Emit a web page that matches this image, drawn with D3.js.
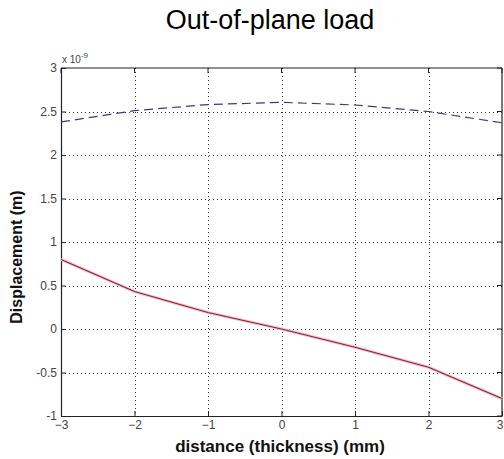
<!DOCTYPE html>
<html>
<head>
<meta charset="utf-8">
<script src="https://cdn.jsdelivr.net/npm/d3@7"></script>
<style>
body { margin: 0; background: #fff; }
text { font-family: "Liberation Sans", Arial, sans-serif; }
</style>
</head>
<body>
<svg id="chart" width="504" height="459"></svg>
<script>
// data (y in units of 1e-9 m)
var xs = [-3, -2, -1, 0, 1, 2, 3];
var upper = [2.38, 2.51, 2.58, 2.605, 2.575, 2.5, 2.37];
var lower = [0.8, 0.43, 0.19, 0, -0.21, -0.44, -0.8];
var xTicks = [-3, -2, -1, 0, 1, 2, 3];
var yTicks = [-1, -0.5, 0, 0.5, 1, 1.5, 2, 2.5, 3];

var svg = d3.select("#chart");
var pL = 61, pR = 502, pT = 68, pB = 416;

var x = d3.scaleLinear().domain([-3, 3]).range([pL, pR]);
var y = d3.scaleLinear().domain([-1, 3]).range([pB, pT]);

// grid
var grid = svg.append("g")
    .attr("stroke", "#333")
    .attr("stroke-width", 1)
    .attr("stroke-dasharray", "1,3");
grid.selectAll(".gx")
    .data(xTicks.slice(1, -1))
    .enter().append("line")
    .attr("x1", d => Math.round(x(d)) + 0.5).attr("x2", d => Math.round(x(d)) + 0.5)
    .attr("y1", pT).attr("y2", pB);
grid.selectAll(".gy")
    .data(yTicks.slice(1, -1))
    .enter().append("line")
    .attr("y1", d => Math.round(y(d)) + 0.5).attr("y2", d => Math.round(y(d)) + 0.5)
    .attr("x1", pL).attr("x2", pR);

// axes
var xAxis = d3.axisBottom(x).tickValues(xTicks).tickSizeInner(-5).tickSizeOuter(0)
    .tickFormat(d3.format("d"));
var yAxis = d3.axisLeft(y).tickValues(yTicks).tickSizeInner(-5).tickSizeOuter(0)
    .tickFormat(d => String(d));

var gx = svg.append("g").attr("transform", "translate(0," + pB + ")").call(xAxis);
var gy = svg.append("g").attr("transform", "translate(" + pL + ",0)").call(yAxis);
[gx, gy].forEach(g => {
    g.select(".domain").attr("stroke", "#222").attr("stroke-width", 1.2);
    g.selectAll(".tick line").attr("stroke", "#222");
    g.selectAll(".tick text").attr("font-size", 12).attr("fill", "#444")
        .attr("font-family", "Liberation Sans, Arial, sans-serif");
});
gx.selectAll(".tick text").attr("y", 4).attr("dy", "0.71em");
gx.selectAll(".tick").filter(d => d === 3).select("text").attr("text-anchor", "end").attr("dx", 1);
gy.selectAll(".tick text").attr("x", -4);

// top and right borders with ticks
svg.append("line").attr("x1", pL).attr("x2", pR).attr("y1", pT).attr("y2", pT)
    .attr("stroke", "#222").attr("stroke-width", 1.2);
svg.append("line").attr("x1", pR).attr("x2", pR).attr("y1", pT).attr("y2", pB)
    .attr("stroke", "#222").attr("stroke-width", 1.2);
svg.selectAll(".tt").data(xTicks).enter().append("line")
    .attr("x1", d => x(d)).attr("x2", d => x(d)).attr("y1", pT).attr("y2", pT + 5)
    .attr("stroke", "#222");
svg.selectAll(".tr").data(yTicks).enter().append("line")
    .attr("x1", pR - 5).attr("x2", pR).attr("y1", d => y(d)).attr("y2", d => y(d))
    .attr("stroke", "#222");

// lines
var line = d3.line().x((d, i) => x(xs[i])).y(d => y(d));
svg.append("path").datum(upper)
    .attr("d", line)
    .attr("fill", "none")
    .attr("stroke", "#3a3a80")
    .attr("stroke-width", 1.2)
    .attr("stroke-dasharray", "9,5");
svg.append("path").datum(lower)
    .attr("d", line)
    .attr("fill", "none")
    .attr("stroke", "#f4c4c8")
    .attr("stroke-width", 3);
svg.append("path").datum(lower)
    .attr("d", line)
    .attr("fill", "none")
    .attr("stroke", "#8e1f33")
    .attr("stroke-width", 1.1);

// texts
svg.append("text").attr("x", 270).attr("y", 29).attr("text-anchor", "middle")
    .attr("font-size", 27).attr("fill", "#000").text("Out-of-plane load");
svg.append("text").attr("x", 280).attr("y", 452).attr("text-anchor", "middle")
    .attr("font-size", 17).attr("font-weight", "bold").attr("fill", "#111")
    .text("distance (thickness) (mm)");
svg.append("text").attr("transform", "translate(22,257) rotate(-90)")
    .attr("text-anchor", "middle").attr("font-size", 16).attr("font-weight", "bold")
    .attr("fill", "#111").text("Displacement (m)");
var ex = svg.append("text").attr("x", 62).attr("y", 63).attr("font-size", 10).attr("fill", "#444");
ex.append("tspan").text("x 10");
ex.append("tspan").attr("dy", -5).attr("font-size", 8).text("-9");
</script>
</body>
</html>
